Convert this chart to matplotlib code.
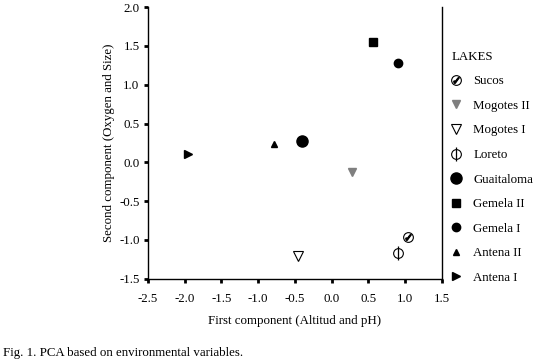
import matplotlib
matplotlib.use("Agg")
import matplotlib.pyplot as plt
from matplotlib.legend_handler import HandlerTuple
from matplotlib.lines import Line2D

# -- Data --------------------------------------------------------------------
lakes = ["Sucos", "Mogotes II", "Mogotes I", "Loreto", "Guaitaloma",
         "Gemela II", "Gemela I", "Antena II", "Antena I"]
pc1 = [1.04, 0.28, -0.45, 0.90, -0.40, 0.56, 0.90, -0.78, -1.95]
pc2 = [-0.96, -0.12, -1.21, -1.17, 0.28, 1.55, 1.28, 0.24, 0.11]

# -- Styles per lake (a list of layered marker styles each) ------------------
OPEN_CIRCLE = dict(marker="o", ms=7, mfc="white", mec="black", mew=0.8)
styles = {
    "Sucos":      [OPEN_CIRCLE, dict(marker=r"$\checkmark$", ms=4, color="black")],
    "Mogotes II": [dict(marker="v", ms=6, color="#7f7f7f", mec="#7f7f7f")],
    "Mogotes I":  [dict(marker="v", ms=7, mfc="white", mec="black", mew=0.8)],
    "Loreto":     [OPEN_CIRCLE, dict(marker="|", ms=10, color="black", mew=0.9)],
    "Guaitaloma": [dict(marker="o", ms=8, color="black")],
    "Gemela II":  [dict(marker="s", ms=6, color="black")],
    "Gemela I":   [dict(marker="o", ms=6, color="black")],
    "Antena II":  [dict(marker="^", ms=5, color="black")],
    "Antena I":   [dict(marker=">", ms=6, color="black")],
}

plt.rcParams["font.family"] = ["Liberation Serif", "DejaVu Serif"]
plt.rcParams["axes.unicode_minus"] = False

fig = plt.figure(figsize=(5.36, 3.6), dpi=100)
ax = fig.add_axes([0.276, 0.226, 0.548, 0.754])

handles = []
for name, x, y in zip(lakes, pc1, pc2):
    layers = []
    for st in styles[name]:
        ax.plot([x], [y], linestyle="none", **st)
        layers.append(Line2D([], [], linestyle="none", **st))
    handles.append(tuple(layers))

ax.set_xlim(-2.5, 1.5)
ax.set_ylim(-1.5, 2.0)
ax.set_xticks([-2.5, -2.0, -1.5, -1.0, -0.5, 0.0, 0.5, 1.0, 1.5])
ax.set_yticks([-1.5, -1.0, -0.5, 0.0, 0.5, 1.0, 1.5, 2.0])
ax.xaxis.set_major_formatter(matplotlib.ticker.FormatStrFormatter("%.1f"))
ax.yaxis.set_major_formatter(matplotlib.ticker.FormatStrFormatter("%.1f"))

ax.spines["top"].set_visible(False)
for s in ("left", "bottom", "right"):
    ax.spines[s].set_linewidth(1.0)
ax.tick_params(direction="out", length=3, width=2, labelsize=9.3)
ax.tick_params(axis="x", pad=7)
ax.tick_params(axis="y", pad=3)

ax.set_xlabel("First component (Altitud and pH)", fontsize=9.3, labelpad=7.5)
ax.set_ylabel("Second component (Oxygen and Size)", fontsize=9.3, labelpad=3)

leg = ax.legend(handles, lakes, loc="upper left", bbox_to_anchor=(0.842, 0.859),
                bbox_transform=fig.transFigure, frameon=False,
                title="LAKES", fontsize=9.3, title_fontsize=9.3,
                labelspacing=0.97, handlelength=0.8, handletextpad=0.9,
                borderaxespad=0, borderpad=0,
                handler_map={tuple: HandlerTuple(ndivide=1, pad=0)})
leg._legend_box.align = "left"

fig.text(0.006, 0.002, "Fig. 1. PCA based on environmental variables.",
         fontsize=9.3, ha="left", va="bottom")

fig.savefig("out.png", dpi=100, facecolor="white")
